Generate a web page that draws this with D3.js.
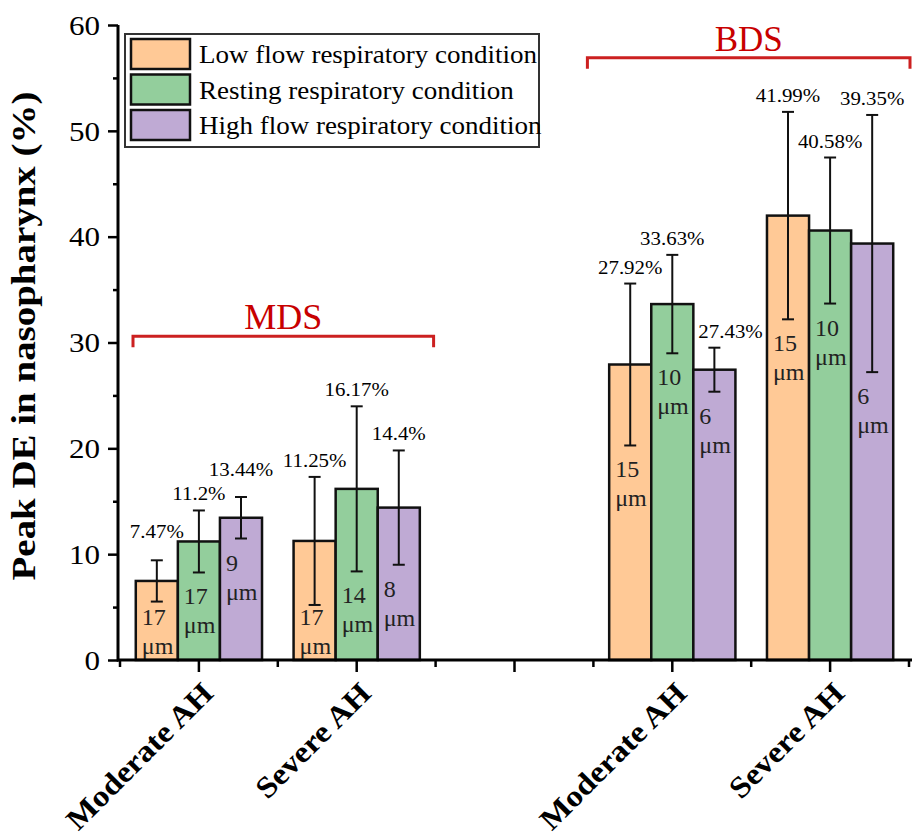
<!DOCTYPE html>
<html>
<head>
<meta charset="utf-8">
<script src="https://cdn.jsdelivr.net/npm/d3@7"></script>
<style>
  body { margin: 0; background: #fff; }
  svg { display: block; }
</style>
</head>
<body>
<div id="chart"></div>
<script>
// x slots: the middle one is the empty gap between MDS and BDS
const categories = ["MDS-moderate", "MDS-severe", "gap", "BDS-moderate", "BDS-severe"];
const tickLabels = ["Moderate AH", "Severe AH", "", "Moderate AH", "Severe AH"];
const seriesNames = ["Low flow respiratory condition",
    "Resting respiratory condition",
    "High flow respiratory condition"];

// peak DE (%)
const lowFlow  = [7.47, 11.25, null, 27.92, 41.99];
const resting  = [11.2, 16.17, null, 33.63, 40.58];
const highFlow = [13.44, 14.4, null, 27.43, 39.35];

// error bar half widths
const lowFlowErr  = [1.95, 6.05, null, 7.65, 9.8];
const restingErr  = [2.93, 7.8, null, 4.65, 6.9];
const highFlowErr = [1.96, 5.4, null, 2.08, 12.15];

// particle size at the peak (µm)
const lowFlowSize  = ["17", "17", null, "15", "15"];
const restingSize  = ["17", "14", null, "10", "10"];
const highFlowSize = ["9", "8", null, "6", "6"];

const groupLabels = ["MDS", "BDS"];
const groupMembers = [["MDS-moderate", "MDS-severe"], ["BDS-moderate", "BDS-severe"]];

const yMajor = [0, 10, 20, 30, 40, 50, 60];
const yMinor = [5, 15, 25, 35, 45, 55];

const colors = ["#ffc996", "#93ce9c", "#bfaad4"];
const serif = '"Liberation Serif", "Times New Roman", serif';
const red = "#c80000";

const svg = d3.select("#chart").append("svg")
    .attr("width", 914)
    .attr("height", 840)
    .style("background", "#fff");

const y = d3.scaleLinear().domain([0, 60]).range([660, 25]);
const x0 = d3.scaleBand().domain(categories).range([120, 909]);
const bw = x0.bandwidth();
const x1 = d3.scaleBand().domain(seriesNames).range([0.1 * bw, 0.9 * bw]);

const valueCols = [lowFlow, resting, highFlow];
const errCols = [lowFlowErr, restingErr, highFlowErr];
const sizeCols = [lowFlowSize, restingSize, highFlowSize];

let bars = [];
categories.forEach((cat, c) => {
    seriesNames.forEach((name, s) => {
        const v = valueCols[s][c];
        if (v == null) return;
        const x = x0(cat) + x1(name);
        bars.push({
            key: cat + s, cat, s, v,
            e: errCols[s][c],
            size: sizeCols[s][c],
            x, w: x1.bandwidth(), cx: x + x1.bandwidth() / 2
        });
    });
});

// helper: text stretched along its own reading direction
function addText(parent, str, o) {
    const t = parent.append("text")
        .attr("font-family", serif)
        .attr("font-size", o.size)
        .attr("font-weight", o.weight || "normal")
        .attr("fill", o.fill || "#000")
        .attr("text-anchor", o.anchor || "start")
        .attr("transform", `translate(${o.x},${o.y})` + (o.rotate ? ` rotate(${o.rotate})` : "") + ` scale(${o.sx || 1},1)`)
        .text(str);
    return t;
}

// bars
svg.append("g")
    .selectAll("rect")
    .data(bars)
    .join("rect")
    .attr("x", d => d.x)
    .attr("y", d => y(d.v))
    .attr("width", d => d.w)
    .attr("height", d => y(0) - y(d.v))
    .attr("fill", d => colors[d.s])
    .attr("stroke", "#111")
    .attr("stroke-width", 2.5);

// error bars
let eb = svg.append("g")
    .attr("stroke", "#111")
    .attr("stroke-width", 2)
    .selectAll("g")
    .data(bars)
    .join("g");
eb.append("line")
    .attr("x1", d => d.cx).attr("x2", d => d.cx)
    .attr("y1", d => y(d.v + d.e)).attr("y2", d => y(d.v - d.e));
eb.append("line")
    .attr("x1", d => d.cx - 6).attr("x2", d => d.cx + 6)
    .attr("y1", d => y(d.v + d.e)).attr("y2", d => y(d.v + d.e));
eb.append("line")
    .attr("x1", d => d.cx - 6).attr("x2", d => d.cx + 6)
    .attr("y1", d => y(d.v - d.e)).attr("y2", d => y(d.v - d.e));

// size labels inside the bars
let sizeG = svg.append("g");
bars.forEach(b => {
    const base = Math.min(y(b.v - b.e) + 32, y(0) - 35);
    const t = sizeG.append("text")
        .attr("font-family", serif)
        .attr("font-size", 24)
        .attr("fill", "#222");
    t.append("tspan").attr("x", b.x + 6).attr("y", base).text(b.size);
    t.append("tspan").attr("x", b.x + 6).attr("y", base + 29).text("\u03bcm");
});

// percent labels above the error bars, nudged off neighbouring marks
const overlaps = (a, b) => a.x0 < b.x1 && a.x1 > b.x0 && a.y0 < b.y1 && a.y1 > b.y0;
let obstacles = bars.map(b => ({x0: b.x, x1: b.x + b.w, y0: y(b.v), y1: y(0), cx: b.cx, kind: "bar", id: b.key}))
    .concat(bars.map(b => ({x0: b.cx - 1, x1: b.cx + 1, y0: y(b.v + b.e), y1: y(b.v - b.e), cx: b.cx, kind: "err", id: b.key})));
let placed = [];
let pctG = svg.append("g");
const pctSize = 19, pctSx = 1.1, capH = 13;
bars.forEach(b => {
    const t = addText(pctG, b.v + "%", {x: 0, y: 0, size: pctSize, sx: pctSx});
    const w = t.node().getComputedTextLength() * pctSx;
    let left = b.cx - w / 2;
    let base = y(b.v + b.e) - 10;
    for (let k = 0; k < 12; k++) {
        const box = {x0: left - 1, x1: left + w + 1, y0: base - capH - 1, y1: base + 1};
        const hit = obstacles.concat(placed).find(o => o.id !== b.key && overlaps(box, o));
        if (!hit) break;
        if (hit.kind === "bar" && hit.cx < b.cx) left = hit.x1 + 5;
        else base = hit.y0 - 3;
    }
    t.attr("transform", `translate(${left},${base}) scale(${pctSx},1)`);
    placed.push({x0: left, x1: left + w, y0: base - capH - 8, y1: base, kind: "label", id: "L" + b.key});
});

// y axis
let yAxis = svg.append("g")
    .attr("transform", "translate(118,0)")
    .call(d3.axisLeft(y).tickValues(yMajor).tickSize(10).tickSizeOuter(0).tickPadding(8));
yAxis.select(".domain").remove();
yAxis.selectAll(".tick line").attr("stroke", "#000").attr("stroke-width", 2.5);
yAxis.selectAll(".tick text")
    .attr("font-family", serif)
    .attr("font-size", 27)
    .attr("fill", "#000")
    .attr("x", -18 / 1.15)
    .attr("dy", "0.34em")
    .attr("transform", "scale(1.15,1)");
let yMinorAxis = svg.append("g")
    .attr("transform", "translate(118,0)")
    .call(d3.axisLeft(y).tickValues(yMinor).tickSize(5).tickFormat(""));
yMinorAxis.select(".domain").remove();
yMinorAxis.selectAll(".tick line").attr("stroke", "#000").attr("stroke-width", 2.5);

// x axis
let xAxis = svg.append("g")
    .attr("transform", "translate(0,660)")
    .call(d3.axisBottom(x0).tickSize(12).tickFormat(""));
xAxis.select(".domain").remove();
xAxis.selectAll(".tick line").attr("stroke", "#000").attr("stroke-width", 2.5);
let bounds = categories.map(c => x0(c)).concat([x0.range()[1]]);
svg.append("g")
    .selectAll("line")
    .data(bounds)
    .join("line")
    .attr("x1", d => d).attr("x2", d => d)
    .attr("y1", 660).attr("y2", 667)
    .attr("stroke", "#000")
    .attr("stroke-width", 2.5);

// axis lines
svg.append("line")
    .attr("x1", 118).attr("x2", 118)
    .attr("y1", y(60)).attr("y2", y(0) + 1.5)
    .attr("stroke", "#000").attr("stroke-width", 3);
svg.append("line")
    .attr("x1", 117).attr("x2", 912)
    .attr("y1", y(0)).attr("y2", y(0))
    .attr("stroke", "#000").attr("stroke-width", 3);

// x tick labels
let xl = svg.append("g");
categories.forEach((cat, i) => {
    if (!tickLabels[i]) return;
    addText(xl, tickLabels[i], {
        x: x0(cat) + bw / 2 + 16, y: 695,
        size: 30, weight: "bold", sx: 1.1, anchor: "end", rotate: -45
    });
});

// y title
addText(svg, "Peak DE in nasopharynx (%)", {
    x: 35, y: 336, size: 33, weight: "bold", sx: 1.18, anchor: "middle", rotate: -90
});

// group brackets
const bracketSpans = [
    [x0(groupMembers[0][0]) + 13, x0(groupMembers[0][1]) + bw - 2, y(30.6), 36],
    [x0(groupMembers[1][0]) - 6, x0(groupMembers[1][1]) + bw + 1, y(56.9), 35]
];
groupLabels.forEach((lab, i) => {
    const [a, b, by, fs] = bracketSpans[i];
    svg.append("path")
        .attr("d", `M${a},${by + 11}V${by}H${b}V${by + 11}`)
        .attr("fill", "none")
        .attr("stroke", "#cc2020")
        .attr("stroke-width", 3);
    addText(svg, lab, {x: (a + b) / 2, y: by - 7, size: fs, fill: red, anchor: "middle"});
});

// legend
let legend = svg.append("g").attr("transform", "translate(125,34)");
legend.append("rect")
    .attr("width", 414)
    .attr("height", 113)
    .attr("fill", "#fff")
    .attr("stroke", "#333")
    .attr("stroke-width", 2);
seriesNames.forEach((name, i) => {
    let row = legend.append("g").attr("transform", `translate(6,${5 + i * 35.5})`);
    row.append("rect")
        .attr("width", 59)
        .attr("height", 30)
        .attr("fill", colors[i])
        .attr("stroke", "#111")
        .attr("stroke-width", 2.5);
    addText(row, name, {x: 68, y: 24, size: 25, sx: 1.08});
});
</script>
</body>
</html>
